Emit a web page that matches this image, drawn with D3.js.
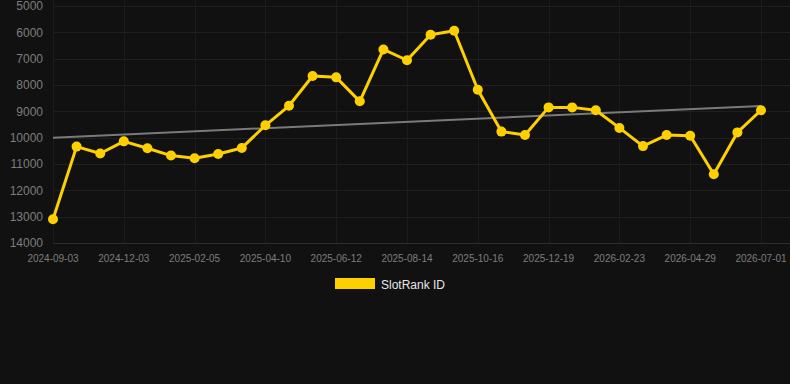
<!DOCTYPE html>
<html><head><meta charset="utf-8">
<script src="https://cdn.jsdelivr.net/npm/d3@7"></script>
<style>html,body{margin:0;padding:0;background:#111111;}svg{display:block;}</style>
</head><body>
<svg id="c" width="790" height="384"></svg>
<script>
const tickLabels = ["2024-09-03","2024-12-03","2025-02-05","2025-04-10","2025-06-12","2025-08-14","2025-10-16","2025-12-19","2026-02-23","2026-04-29","2026-07-01"];
const pointIndex = d3.range(31);
const rankValues = [13100,10340,10600,10140,10400,10680,10780,10620,10390,9530,8790,7660,7710,8620,6650,7060,6090,5940,8180,9770,9900,8850,8850,8960,9630,10320,9900,9930,11390,9800,8960];
const trendValues = [10000, 8800];
const yTicks = [5000,6000,7000,8000,9000,10000,11000,12000,13000,14000];
const seriesName = "SlotRank ID";

(function(){
const svg = d3.select("#c");
const pLeft = 53, pRight = 761, pTop = 6, pBottom = 243;
const x = d3.scaleLinear().domain([0, pointIndex.length - 1]).range([pLeft, pRight]);
const y = d3.scaleLinear().domain([5000, 14000]).range([pTop, pBottom]);

svg.append("rect").attr("width",790).attr("height",384).attr("fill","#111111");

// horizontal grid
svg.append("g").selectAll("line").data(yTicks.slice(0,-1)).join("line")
  .attr("x1", pLeft).attr("x2", 790).attr("y1", d => Math.round(y(d))+0.5).attr("y2", d => Math.round(y(d))+0.5)
  .attr("stroke", "#1f1f1f").attr("stroke-width", 1);
// vertical grid
const tickIdx = tickLabels.map((d,i) => i*3);
svg.append("g").selectAll("line").data(tickIdx).join("line")
  .attr("x1", d => Math.round(x(d))+0.5).attr("x2", d => Math.round(x(d))+0.5)
  .attr("y1", 0).attr("y2", pBottom)
  .attr("stroke", "#1c1c1c").attr("stroke-width", 1);
// bottom axis line
svg.append("line").attr("x1", pLeft).attr("x2", 790).attr("y1", Math.round(y(14000))+0.5).attr("y2", Math.round(y(14000))+0.5)
  .attr("stroke", "#2e2e2e");

// y labels
svg.append("g").selectAll("text").data(yTicks).join("text")
  .attr("x", 43).attr("y", d => y(d)).attr("dy", "0.35em")
  .attr("text-anchor", "end").attr("fill", "#7d7d7d")
  .attr("font-family", "Liberation Sans, Arial, sans-serif").attr("font-size", 12)
  .text(d => d);
// x labels
svg.append("g").selectAll("text").data(tickLabels).join("text")
  .attr("x", (d,i) => x(i*3)).attr("y", 262)
  .attr("text-anchor", "middle").attr("fill", "#7d7d7d")
  .attr("font-family", "Liberation Sans, Arial, sans-serif").attr("font-size", 10)
  .text(d => d);

// trend line
svg.append("line")
  .attr("x1", x(0)).attr("x2", x(pointIndex.length-1))
  .attr("y1", y(trendValues[0])).attr("y2", y(trendValues[1]))
  .attr("stroke", "#7a7a7a").attr("stroke-width", 2);

// series line
const line = d3.line().x((d,i) => x(i)).y(d => y(d));
svg.append("path").datum(rankValues).attr("d", line)
  .attr("fill", "none").attr("stroke", "#FFD000").attr("stroke-width", 3)
  .attr("stroke-linejoin", "round");
svg.append("g").selectAll("circle").data(rankValues).join("circle")
  .attr("cx", (d,i) => x(i)).attr("cy", d => y(d)).attr("r", 5)
  .attr("fill", "#FFD000");

// legend
svg.append("rect").attr("x", 335).attr("y", 278).attr("width", 40).attr("height", 11).attr("fill", "#FFD000");
svg.append("text").attr("x", 381).attr("y", 288.5)
  .attr("fill", "#e6e6e6").attr("font-family", "Liberation Sans, Arial, sans-serif").attr("font-size", 12)
  .text(seriesName);
})();
</script>
</body></html>
